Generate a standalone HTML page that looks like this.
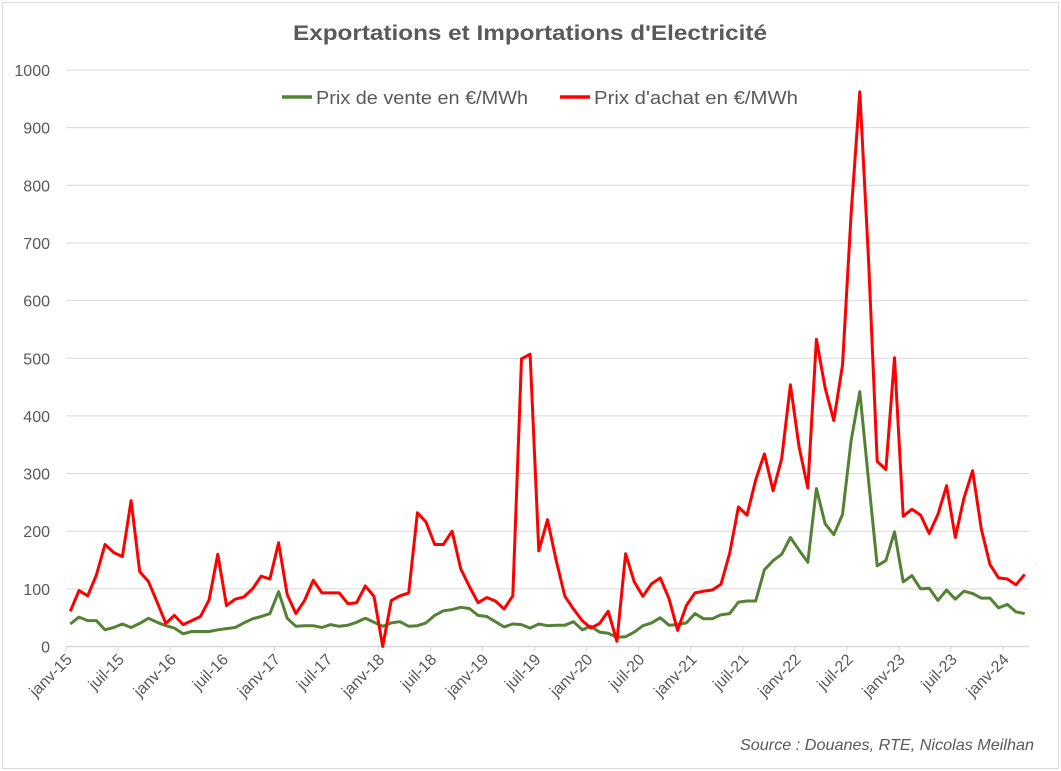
<!DOCTYPE html>
<html><head><meta charset="utf-8"><style>
body{margin:0;background:#fff;}
svg{display:block;font-family:"Liberation Sans",sans-serif;}
</style></head><body>
<svg id="chart" width="1061" height="771">
<rect x="2.5" y="2.5" width="1056" height="766" fill="#fff" stroke="#d9d9d9"/>
<text x="530" y="40" text-anchor="middle" font-size="21" font-weight="bold" fill="#595959" textLength="474" lengthAdjust="spacingAndGlyphs">Exportations et Importations d'Electricité</text>
<g id="grid"></g><g id="yaxis"></g><g id="xaxis"></g><g id="series"></g>
<g>
<line x1="282" y1="97" x2="312" y2="97" stroke="#548235" stroke-width="3.5"/>
<text x="316" y="104" font-size="18" fill="#595959" textLength="212" lengthAdjust="spacingAndGlyphs">Prix de vente en €/MWh</text>
<line x1="560" y1="97" x2="590" y2="97" stroke="#ff0000" stroke-width="3.5"/>
<text x="594" y="104" font-size="18" fill="#595959" textLength="204" lengthAdjust="spacingAndGlyphs">Prix d'achat en €/MWh</text>
</g>
<text x="1034" y="750" text-anchor="end" font-size="16" font-style="italic" fill="#595959" textLength="294" lengthAdjust="spacingAndGlyphs">Source : Douanes, RTE, Nicolas Meilhan</text>
</svg>
<script>
const yTicks=[0,100,200,300,400,500,600,700,800,900,1000];
const xTickLabels=["janv-15","juil-15","janv-16","juil-16","janv-17","juil-17","janv-18","juil-18","janv-19","juil-19","janv-20","juil-20","janv-21","juil-21","janv-22","juil-22","janv-23","juil-23","janv-24"];
const prixVente=[39,51,45,45,29,33,39,33,40,49,42,36,32,22,26,26,26,29,31,33,41,48,52,57,95,49,35,36,36,33,38,35,37,42,49,42,35,41,43,35,36,41,54,62,64,68,66,54,52,43,34,39,38,32,39,36,37,37,43,29,35,25,23,16,17,25,36,41,50,37,38,41,57,48,48,55,57,77,79,79,133,149,160,189,167,146,274,213,194,229,357,442,289,140,149,199,112,123,100,101,80,98,82,96,92,84,84,67,73,60,57];
const prixAchat=[61,97,88,124,177,163,156,253,130,113,77,40,54,38,45,52,81,160,71,82,86,100,122,117,180,90,57,80,115,93,93,93,74,76,105,87,0,80,88,93,232,216,177,177,200,135,104,76,85,79,65,88,499,507,166,220,149,87,65,45,32,40,61,9,161,112,87,109,119,83,28,71,93,96,98,108,162,242,228,289,334,270,326,454,346,275,533,449,392,488,750,962,672,321,307,501,226,238,228,196,229,279,189,257,305,204,142,119,117,107,125];
const NS="http://www.w3.org/2000/svg";
const L=66,R=1029,T=70,B=646.5,N=prixAchat.length,step=(R-L)/N;
const xs=i=>L+step*(i+0.5);
const ys=v=>B-(v/1000)*(B-T);
function mk(tag,attrs,parent){const e=document.createElementNS(NS,tag);for(const k in attrs)e.setAttribute(k,attrs[k]);parent.appendChild(e);return e;}
const grid=document.getElementById('grid'),ya=document.getElementById('yaxis'),xa=document.getElementById('xaxis'),se=document.getElementById('series');
yTicks.forEach(v=>{
  const g=mk('line',{x1:L,x2:R,y1:ys(v),y2:ys(v),stroke:'#d9d9d9','stroke-width':1},grid);
  
  
  const t=mk('text',{x:50,y:ys(v)+6,'text-anchor':'end','font-size':16,fill:'#595959'},ya);
  t.textContent=v;
  
  
});
const ax=mk('line',{x1:L,x2:R,y1:B,y2:B,stroke:'#d9d9d9','stroke-width':1.5},xa);


xTickLabels.forEach((lab,k)=>{
  const x=L+step*6*k;
  const tk=mk('line',{x1:x,x2:x,y1:B,y2:B+5,stroke:'#d9d9d9','stroke-width':1},xa);
  
  
  const t=mk('text',{x:x+7,y:B+14,'text-anchor':'end','font-size':16,fill:'#595959',transform:`rotate(-45 ${x+7} ${B+14})`},xa);
  t.textContent=lab;
  
  
});
function line(data,color,name){
  const p=mk('polyline',{points:data.map((v,i)=>xs(i).toFixed(1)+','+ys(v).toFixed(1)).join(' '),fill:'none',stroke:color,'stroke-width':3,'stroke-linejoin':'round'},se);
  
  
}
line(prixVente,'#548235','series-prix-vente');
line(prixAchat,'#ff0000','series-prix-achat');
</script>
</body></html>
